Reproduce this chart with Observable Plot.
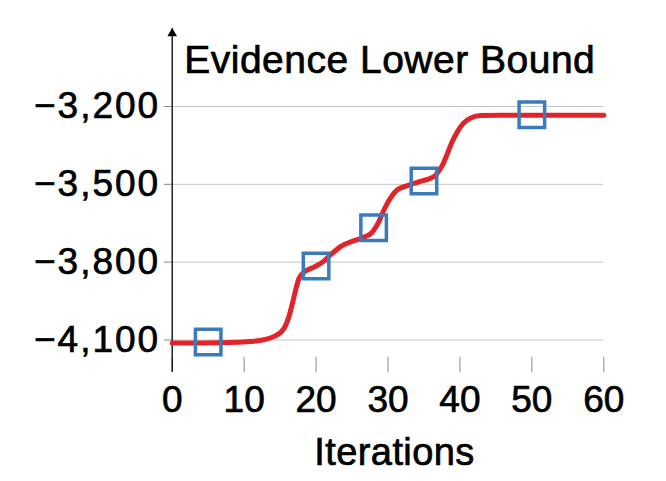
<!DOCTYPE html>
<html><head><meta charset="utf-8">
<script src="https://cdn.jsdelivr.net/npm/d3@7"></script>
<script src="https://cdn.jsdelivr.net/npm/@observablehq/plot@0.6"></script>
<style>
html,body{margin:0;padding:0;background:#fff}
#chart svg{display:block}
#chart svg text{stroke:#000;stroke-width:0.7px;paint-order:stroke}
#chart svg g[aria-label="y-axis tick label"] text{letter-spacing:2px}
#chart svg g.title-text text{letter-spacing:0.5px}
#chart svg g.xlabel-text text{letter-spacing:0.4px}
</style>
</head><body><div id="chart"></div>
<script>
// ---- data ----
const iterations = [0, 3, 6, 9, 10.9, 12.7, 14.1, 15.5, 16.2, 16.7, 17.15, 17.6, 18.3, 19.7, 21, 22, 23.4, 25.3, 26.6, 27.8, 28.7, 29.4, 30.4, 31.3, 32.7, 34.5, 36.4, 37.1, 37.55, 38.25, 38.9, 39.6, 40.5, 41.5, 42.9, 45.7, 50, 55, 60];
const elbo = [-4112, -4112, -4111, -4109, -4106, -4099, -4087, -4057, -4012, -3960, -3909, -3864, -3839, -3819, -3798, -3772, -3740, -3717, -3704, -3685, -3646, -3601, -3550, -3521, -3505, -3489, -3470, -3447, -3427, -3382, -3337, -3299, -3264, -3244, -3235, -3234, -3234, -3234, -3234];
const markerIter = [5, 20, 28, 35, 50];
const markerElbo = [-4108, -3815, -3667, -3487, -3232];
const xTicks = [0, 10, 20, 30, 40, 50, 60];
const yTicks = [-4100, -3800, -3500, -3200];
const titleText = "Evidence Lower Bound";
const xLabelText = "Iterations";

const curveData = iterations.map((x, i) => ({x, y: elbo[i]}));
const markerData = markerIter.map((x, i) => ({x, y: markerElbo[i]}));

const yDomain = [-4167.5, -2899.4];
const axisLineBottom = -4224;

const plot = Plot.plot({
  width: 666,
  height: 481,
  marginLeft: 171.7,
  marginRight: 62.7,
  marginTop: 28,
  marginBottom: 124,
  style: {fontFamily: "'Liberation Sans', Arial, Helvetica, sans-serif", fontSize: "37px", background: "#fff", color: "#000"},
  x: {domain: [0, 60]},
  y: {domain: yDomain},
  marks: [
    Plot.gridY(yTicks, {stroke: "#c6c6c6", strokeOpacity: 1, strokeWidth: 1}),
    Plot.axisY(yTicks, {tickSize: 8, tickPadding: 4, stroke: "#8a8a8a", fill: "#000", fontSize: 37, tickFormat: d3.format(","), label: null}),
    Plot.axisX(xTicks, {tickSize: 15, tickPadding: 13, stroke: "#8a8a8a", fill: "#000", fontSize: 37, label: null}),
    Plot.ruleX([0], {y1: axisLineBottom, y2: yDomain[1], stroke: "#000", strokeWidth: 1.3}),
    Plot.dot([0], {x: d => d, frameAnchor: "top", dy: 5, symbol: "triangle", r: 3.6, fill: "#000", stroke: "none"}),
    Plot.line(curveData, {x: "x", y: "y", stroke: "#e3232a", strokeWidth: 5, curve: "monotone-x"}),
    Plot.dot(markerData, {x: "x", y: "y", symbol: "square", r: 14.4, stroke: "#3b7bbd", strokeWidth: 3.5, fill: "none"}),
    Plot.text([titleText], {text: d => d, frameAnchor: "top-left", dx: 12, dy: 17, lineAnchor: "top", textAnchor: "start", fontSize: 39, fill: "#000", className: "title-text"}),
    Plot.text([xLabelText], {text: d => d, frameAnchor: "bottom", dx: 6.5, dy: 81, lineAnchor: "top", textAnchor: "middle", fontSize: 38, fill: "#000", className: "xlabel-text"})
  ]
});
document.getElementById("chart").appendChild(plot);
</script>
</body></html>
